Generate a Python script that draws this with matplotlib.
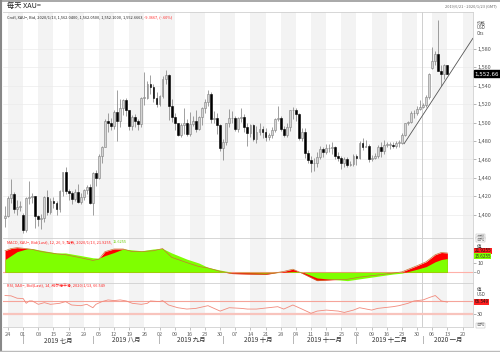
import numpy as np
import pandas as pd
import matplotlib
matplotlib.use("Agg")
import matplotlib.pyplot as plt
import matplotlib.transforms as mtransforms

plt.rcParams['font.family'] = ['Noto Sans CJK SC', 'DejaVu Sans']

# Daily XAU= candles, 2019-06-21 .. 2020-01-13 (weekdays)
opens = [1397,
         1399, 1418, 1423, 1407, 1409,
         1400, 1384, 1418, 1419, 1420,
         1399, 1396, 1397, 1419, 1403,
         1415, 1413, 1406, 1426, 1446,
         1426, 1424, 1417, 1425, 1414,
         1419, 1427, 1430, 1413, 1445,
         1440, 1464, 1474, 1502, 1500,
         1496, 1511, 1502, 1516, 1524,
         1513, 1496, 1506, 1502, 1498,
         1527, 1527, 1542, 1538, 1527,
         1520, 1529, 1547, 1551, 1518,
         1506, 1499, 1486, 1497, 1499,
         1488, 1498, 1502, 1493, 1506,
         1516, 1522, 1531, 1504, 1505,
         1497, 1472, 1479, 1499, 1505,
         1505, 1493, 1505, 1506, 1495,
         1489, 1497, 1482, 1490, 1493,
         1490, 1484, 1487, 1492, 1504,
         1505, 1493, 1487, 1495, 1513,
         1514, 1509, 1483, 1490, 1467,
         1459, 1456, 1456, 1463, 1471,
         1468, 1472, 1472, 1473, 1464,
         1462, 1456, 1461, 1454, 1455,
         1464, 1462, 1478, 1474, 1475,
         1460, 1462, 1464, 1474, 1469,
         1476, 1476, 1476, 1475, 1478,
         1478, 1486, 1499, 1501, 1510,
         1510, 1515, 1517, 1519, 1528,
         1559, 1566, 1574, 1556, 1552,
         1562.04]
highs = [1410,
         1420, 1439, 1425, 1416, 1415,
         1402, 1419, 1437, 1424, 1421,
         1400, 1401, 1421, 1427, 1418,
         1419, 1415, 1427, 1447, 1452,
         1428, 1426, 1428, 1434, 1424,
         1428, 1432, 1434, 1446, 1449,
         1466, 1475, 1504, 1510, 1505,
         1513, 1535, 1525, 1525, 1526,
         1514, 1508, 1509, 1504, 1528,
         1555, 1545, 1551, 1542, 1533,
         1530, 1550, 1557, 1552, 1525,
         1510, 1500, 1500, 1516, 1504,
         1511, 1507, 1513, 1507, 1517,
         1525, 1535, 1533, 1512, 1510,
         1498, 1482, 1500, 1515, 1512,
         1507, 1506, 1516, 1509, 1500,
         1498, 1498, 1496, 1500, 1496,
         1494, 1489, 1495, 1505, 1518,
         1507, 1496, 1500, 1514, 1517,
         1516, 1510, 1494, 1494, 1470,
         1464, 1462, 1468, 1475, 1474,
         1477, 1477, 1479, 1475, 1468,
         1464, 1463, 1463, 1458, 1466,
         1466, 1480, 1483, 1481, 1477,
         1465, 1467, 1476, 1479, 1481,
         1479, 1479, 1479, 1480, 1481,
         1489, 1500, 1502, 1512, 1514,
         1518, 1524, 1521, 1530, 1553,
         1582, 1577, 1611, 1562, 1563,
         1562.05]
lows = [1387,
        1398, 1413, 1402, 1400, 1404,
        1381, 1382, 1412, 1413, 1386,
        1388, 1385, 1392, 1400, 1401,
        1408, 1400, 1403, 1420, 1423,
        1416, 1412, 1415, 1413, 1412,
        1416, 1423, 1412, 1400, 1431,
        1439, 1456, 1473, 1490, 1492,
        1493, 1480, 1495, 1508, 1507,
        1492, 1492, 1495, 1492, 1495,
        1519, 1525, 1531, 1522, 1517,
        1518, 1527, 1542, 1503, 1501,
        1492, 1485, 1484, 1488, 1485,
        1485, 1496, 1490, 1492, 1497,
        1510, 1518, 1500, 1500, 1488,
        1469, 1459, 1476, 1495, 1500,
        1491, 1490, 1501, 1490, 1475,
        1484, 1480, 1478, 1486, 1483,
        1480, 1481, 1483, 1490, 1502,
        1491, 1484, 1484, 1491, 1504,
        1502, 1481, 1480, 1462, 1456,
        1446, 1448, 1452, 1460, 1463,
        1466, 1468, 1466, 1460, 1458,
        1450, 1452, 1452, 1453, 1453,
        1454, 1460, 1470, 1473, 1457,
        1458, 1460, 1462, 1463, 1466,
        1473, 1471, 1472, 1472, 1474,
        1477, 1485, 1497, 1500, 1505,
        1508, 1513, 1516, 1517, 1525,
        1558, 1562, 1556, 1540, 1547,
        1552.10]
closes = [1399,
          1418, 1423, 1407, 1409, 1409,
          1384, 1418, 1419, 1420, 1399,
          1396, 1397, 1419, 1403, 1415,
          1413, 1406, 1426, 1446, 1426,
          1424, 1417, 1425, 1414, 1419,
          1427, 1430, 1413, 1445, 1440,
          1464, 1474, 1502, 1500, 1496,
          1511, 1502, 1516, 1524, 1513,
          1496, 1506, 1502, 1498, 1527,
          1527, 1542, 1538, 1527, 1520,
          1529, 1547, 1551, 1518, 1506,
          1499, 1486, 1497, 1499, 1488,
          1498, 1502, 1493, 1506, 1516,
          1522, 1531, 1504, 1505, 1497,
          1472, 1479, 1499, 1505, 1505,
          1493, 1505, 1506, 1495, 1489,
          1497, 1482, 1490, 1493, 1490,
          1484, 1487, 1492, 1504, 1505,
          1493, 1487, 1495, 1513, 1514,
          1509, 1483, 1490, 1467, 1459,
          1456, 1456, 1463, 1471, 1468,
          1472, 1472, 1473, 1464, 1462,
          1456, 1461, 1454, 1455, 1464,
          1462, 1478, 1474, 1475, 1460,
          1462, 1464, 1474, 1469, 1476,
          1476, 1476, 1475, 1478, 1478,
          1486, 1499, 1501, 1510, 1510,
          1515, 1517, 1519, 1528, 1552,
          1566, 1574, 1556, 1552, 1562,
          1552.66]

# MACD(12,26,9) (trading-day index)
macd_idx = [0, 2, 4, 7, 9, 12, 17, 20, 25, 29, 31, 33, 36, 39, 42, 45, 49, 52, 55, 60,
            64, 67, 71, 75, 80, 86, 92, 95, 98, 103, 108, 113, 117, 122, 128, 131, 136,
            139, 142, 144, 146]
macd_val = [24.5, 27, 28, 27, 26, 23.5, 21, 20, 16.5, 13.5, 15, 23.5, 26.5, 26.5, 23.5,
            23.5, 24.5, 27, 17, 11, 6.5, 5, 1, -1.5, -2, -2.5, 1, 3.5, -1, -9.5, -8.5, -8,
            -5.5, -3.5, -1, 0.5, 7.5, 12, 20, 22.5, 21.9255]
signal_val = [14.5, 19, 23.5, 26.5, 27, 25, 22, 22, 19, 16.5, 16, 19, 22.5, 26.5, 25.5,
              24.5, 26.5, 27, 22, 15, 10.5, 5.5, 2.5, 0, -0.5, -1, 0, 1, 0.5, -6.5, -8,
              -9.5, -7.5, -5, -2, -1, 3.5, 6.5, 12, 14.5, 15.6255]

# RSI(14)
rsi_idx = [0, 2, 4, 6, 7, 8, 9, 11, 13, 15, 18, 20, 22, 25, 27, 29, 30, 32, 34, 36,
           38, 40, 42, 45, 47, 48, 51, 52, 54, 57, 60, 63, 67, 69, 71, 74, 78, 80, 83, 85,
           90, 92, 95, 98, 101, 103, 106, 110, 112, 115, 117, 121, 123, 125, 128, 130, 133,
           135, 138, 140, 142, 143, 144, 146]
rsi_val = [86, 85, 78, 77, 63, 70, 70, 60, 65, 60, 63, 68, 58, 56, 60, 50, 60, 68, 73, 71,
           73, 70, 63, 60, 63, 70, 68, 71, 58, 50, 46, 48, 56, 48, 40, 50, 48, 46, 46, 48,
           53, 46, 58, 46, 33.5, 40, 43, 40, 36, 43, 50, 43, 48, 50, 53, 56, 63, 70, 73, 80,
           86, 78, 70, 66.549]

# hand-drawn trend line (index, price)
trend_x = [131.7, 154.4]
trend_y = [1477, 1591]

price_ticks = [1400, 1420, 1440, 1460, 1480, 1500, 1520, 1540, 1560, 1580]
month_names = ["2019 七月", "2019 八月", "2019 九月", "2019 十月",
               "2019 十一月", "2019 十二月", "2020 一月"]
month_start = [6, 29, 51, 72, 95, 116, 138]

days = pd.bdate_range("2019-06-21", "2020-01-13")
mondays = pd.date_range("2019-06-24", periods=31, freq="7D")
monday_idx = [1 + 5 * k for k in range(len(mondays))]

W, H = 500, 352
fig = plt.figure(figsize=(5, 3.52), dpi=100, facecolor="white")


def rect(x0, y0, x1, y1):
    return [x0 / W, 1 - y1 / H, (x1 - x0) / W, (y1 - y0) / H]


ax = fig.add_axes(rect(3, 12, 473, 238))
ax_m = fig.add_axes(rect(3, 238, 473, 283), sharex=ax)
ax_r = fig.add_axes(rect(3, 283, 473, 327), sharex=ax)

xmin, xmax = -0.66, 154.45
for a in (ax, ax_m, ax_r):
    a.set_xlim(xmin, xmax)
    for k in range(0, 31, 2):
        a.axvspan(monday_idx[k], monday_idx[k] + 5, color="#f3f3f3", lw=0, zorder=0)
    a.axvline(137.6, color="#c8c8c8", lw=0.6, zorder=1)
    for s in a.spines.values():
        s.set_color("#d0d0d0")
        s.set_linewidth(0.6)
    a.spines["left"].set_visible(False)
    a.yaxis.tick_right()
    a.tick_params(axis="y", right=True, left=False, length=2, width=0.5, color="#999",
                  labelsize=4, labelcolor="#555", pad=1)
    a.tick_params(axis="x", bottom=False, labelbottom=False)

# ---- price panel
ax.set_ylim(1375.1, 1619.5)
ax.set_yticks(price_ticks)
ax.set_yticklabels([f"{v:,}" for v in price_ticks])
for v in price_ticks:
    ax.axhline(v, color="#ebebeb", lw=0.5, zorder=0.5)

x = np.arange(len(days))
o = np.array(opens); h = np.array(highs); l = np.array(lows); c = np.array(closes)
up = c >= o
ax.vlines(x, l, h, color="#7a7a7a", lw=0.5, zorder=2)
ax.bar(x[up], np.maximum(c[up] - o[up], 0.4), bottom=o[up], width=0.6,
       color="#d4d4d4", edgecolor="#808080", linewidth=0.4, zorder=3)
ax.bar(x[~up], np.maximum(o[~up] - c[~up], 0.4), bottom=c[~up], width=0.6,
       color="#000000", edgecolor="#000000", linewidth=0.4, zorder=3)
ax.plot(trend_x, trend_y, color="#555555", lw=0.6, zorder=4)

ytr = ax.get_yaxis_transform()
ax.text(1.003, closes[-1], f"{closes[-1]:,.2f}", transform=ytr, fontsize=4, color="white",
        va="center", ha="left", family="DejaVu Sans",
        bbox=dict(boxstyle="square,pad=0.15", fc="black", ec="black"))
ax.text(1.008, 1611, "价格\nUSD\nOzs", transform=ytr, fontsize=3.2, color="#444",
        va="top", ha="left", linespacing=1.1)
ax.text(1.008, 1376.5, "自动", transform=ytr, fontsize=3, color="#777", va="center",
        bbox=dict(boxstyle="square,pad=0.1", fc="white", ec="#aaa", lw=0.3))

t1 = ax.text(0.008, 0.985, "Cndl, XAU=, Bid, 2020/1/13, 1,562.0400, 1,562.0500, "
             "1,552.1000, 1,552.6663, ", transform=ax.transAxes, fontsize=2.8,
             color="#222", va="top", ha="left")
ax.annotate("-9.3667, (-.60%)", xy=(1, 0), xycoords=t1, va="bottom", ha="left",
            fontsize=2.8, color="#ff2020")

# ---- MACD panel
ax_m.set_ylim(-12.2, 39)
ax_m.set_yticks([0, 10])
ax_m.fill_between(macd_idx, 0, macd_val, color="#ff0000", lw=0, zorder=2)
ax_m.fill_between(macd_idx, 0, signal_val, color="#7fff00", lw=0, zorder=3)
ax_m.plot(macd_idx, macd_val, color="#c87533", lw=0.5, zorder=4)
ax_m.axhline(0, color="#ffb0a8", lw=0.8, zorder=1)
mtr = ax_m.get_yaxis_transform()
ax_m.text(1.003, 24.5, "21.9255", transform=mtr, fontsize=3.3, color="#111", va="center",
          bbox=dict(boxstyle="square,pad=0.12", fc="#ff2020", ec="none"))
ax_m.text(1.003, 18.5, "15.6255", transform=mtr, fontsize=3.3, color="#333", va="center",
          bbox=dict(boxstyle="square,pad=0.12", fc="#80ff00", ec="none"))
ax_m.text(1.008, 29, "值", transform=mtr, fontsize=3.2, color="#444", va="center")
ax_m.text(1.008, 37, "自动", transform=mtr, fontsize=3, color="#777", va="center",
          bbox=dict(boxstyle="square,pad=0.1", fc="white", ec="#aaa", lw=0.3))
t2 = ax_m.text(0.008, 0.96, "MACD, XAU=, Bid(Last), 12, 26, 9, 指数, 2020/1/13, 21.9255, ",
               transform=ax_m.transAxes, fontsize=2.8, color="#ff2020", va="top")
ax_m.annotate("15.6255", xy=(1, 0), xycoords=t2, va="bottom", ha="left", fontsize=2.8,
              color="#66cc00")

# ---- RSI panel
ax_r.set_ylim(-7, 123)
ax_r.set_yticks([30])
ax_r.axhline(70, color="#f5a49a", lw=0.8, zorder=2)
ax_r.axhline(30, color="#f8c4bd", lw=1.6, zorder=2)
ax_r.plot(rsi_idx, rsi_val, color="#f28a7c", lw=0.6, zorder=3)
rtr = ax_r.get_yaxis_transform()
ax_r.text(1.003, 67, "66.549", transform=rtr, fontsize=3.3, color="#111", va="center",
          bbox=dict(boxstyle="square,pad=0.12", fc="#ff2020", ec="none"))
ax_r.text(1.008, 96, "值\nUSD", transform=rtr, fontsize=3.2, color="#444", va="center",
          linespacing=1.0)
ax_r.text(1.008, -2, "自动", transform=rtr, fontsize=3, color="#777", va="center",
          bbox=dict(boxstyle="square,pad=0.1", fc="white", ec="#aaa", lw=0.3))
ax_r.text(0.008, 0.97, "RSI, XAU=, Bid(Last), 14, 威尔德平滑, 2020/1/13, 66.549",
          transform=ax_r.transAxes, fontsize=2.8, color="#ff2020", va="top")

# ---- date axis
ax_r.set_xticks(monday_idx)
ax_r.set_xticklabels([d.strftime("%d") for d in mondays])
ax_r.tick_params(axis="x", bottom=True, labelbottom=True, length=2, width=0.5,
                 color="#aaa", labelsize=4, labelcolor="#666", pad=1.5)

dtr = mtransforms.blended_transform_factory(ax_r.transData, fig.transFigure)
for s in month_start:
    fig.text(s, 1 - 340 / H, "|", transform=dtr, fontsize=4.5, color="#444",
             ha="center", va="center")
month_mid = [(a + b) / 2 for a, b in zip(month_start, month_start[1:] + [xmax])]
for name, m in zip(month_names, month_mid):
    fig.text(m, 1 - 340 / H, name, transform=dtr, fontsize=4.6, color="#333",
             ha="center", va="center")

# ---- header
fig.text(7 / W, 1 - 6 / H, "每天 XAU=", fontsize=5.2, color="#222", va="center")
fig.text(497 / W, 1 - 6 / H, "2019/6/21 - 2020/1/23 (GMT)", fontsize=2.8, color="#666",
         va="center", ha="right")
fig.add_artist(plt.Line2D([0, 1], [1 - 0.6 / H] * 2, color="#999", lw=1.2))
fig.add_artist(plt.Line2D([1.2 / W] * 2, [0, 1], color="#888", lw=1.5))
fig.add_artist(plt.Line2D([0, 1], [1 - 350.5 / H] * 2, color="#bbb", lw=1))

fig.savefig("out.png", dpi=100, facecolor="white")
